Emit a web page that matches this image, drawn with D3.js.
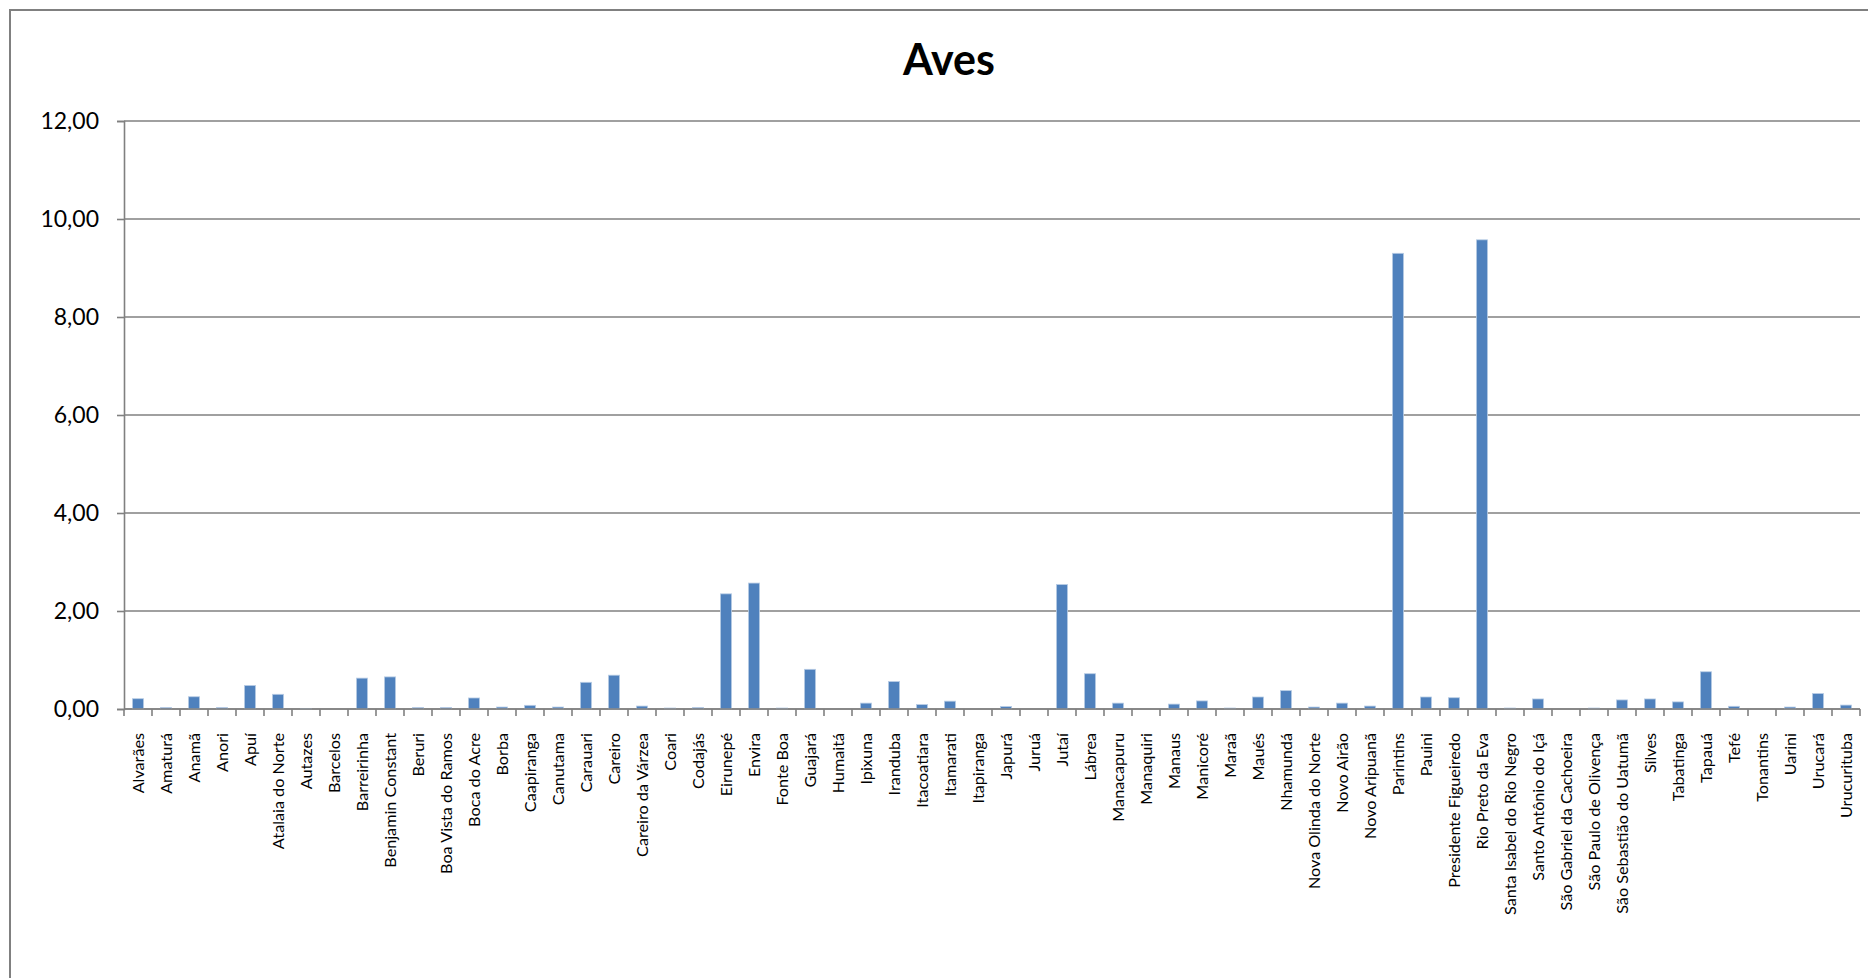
<!DOCTYPE html>
<html>
<head>
<meta charset="utf-8">
<script src="https://cdn.jsdelivr.net/npm/d3@7"></script>
<style>
  html, body { margin: 0; padding: 0; background: #fff; }
  svg { display: block; }
</style>
</head>
<body>
<div id="chart"></div>
<script>
// Municipalities of Amazonas (category axis)
const municipios = [
  "Alvarães", "Amaturá", "Anamã", "Anori", "Apuí", "Atalaia do Norte", "Autazes",
  "Barcelos", "Barreirinha", "Benjamin Constant", "Beruri", "Boa Vista do Ramos",
  "Boca do Acre", "Borba", "Caapiranga", "Canutama", "Carauari", "Careiro",
  "Careiro da Várzea", "Coari", "Codajás", "Eirunepé", "Envira", "Fonte Boa",
  "Guajará", "Humaitá", "Ipixuna", "Iranduba", "Itacoatiara", "Itamarati",
  "Itapiranga", "Japurá", "Juruá", "Jutaí", "Lábrea", "Manacapuru", "Manaquiri",
  "Manaus", "Manicoré", "Maraã", "Maués", "Nhamundá", "Nova Olinda do Norte",
  "Novo Airão", "Novo Aripuanã", "Parintins", "Pauini", "Presidente Figueiredo",
  "Rio Preto da Eva", "Santa Isabel do Rio Negro", "Santo Antônio do Içá",
  "São Gabriel da Cachoeira", "São Paulo de Olivença", "São Sebastião do Uatumã",
  "Silves", "Tabatinga", "Tapauá", "Tefé", "Tonantins", "Uarini", "Urucará",
  "Urucurituba"
];

// Aves values per municipality
const aves = [
  0.21, 0.03, 0.25, 0.03, 0.48, 0.30, 0.01,
  0.00, 0.63, 0.655, 0.03, 0.03,
  0.225, 0.04, 0.075, 0.04, 0.545, 0.69,
  0.06, 0.02, 0.03, 2.35, 2.57, 0.02,
  0.81, 0.00, 0.12, 0.56, 0.09, 0.16,
  0.00, 0.05, 0.00, 2.54, 0.72, 0.12, 0.00,
  0.10, 0.165, 0.02, 0.245, 0.375, 0.04,
  0.12, 0.06, 9.30, 0.245, 0.23,
  9.575, 0.02, 0.205,
  0.00, 0.02, 0.185,
  0.205, 0.145, 0.76, 0.055, 0.00, 0.04, 0.315,
  0.08
];

const yTicks = [0, 2, 4, 6, 8, 10, 12];
const chartTitle = "Aves";

const W = 1868, H = 978;
const margin = { left: 124, right: 8, top: 121, bottom: 269 };
const x0 = margin.left, x1 = W - margin.right;
const y0 = H - margin.bottom, y1 = margin.top;

const gray = "#808080";
const barColor = "#4f81bd";
const font = "Lato, 'Open Sans', sans-serif";

const ptBR = d3.formatLocale({ decimal: ",", thousands: ".", grouping: [3], currency: ["R$", ""] });
const fmt = ptBR.format(".2f");

const svg = d3.select("#chart").append("svg")
  .attr("width", W).attr("height", H);

// chart frame
svg.append("rect")
  .attr("x", 10).attr("y", 10)
  .attr("width", W + 20).attr("height", H + 20)
  .attr("fill", "#fff")
  .attr("stroke", gray).attr("stroke-width", 2);

const x = d3.scaleBand()
  .domain(municipios)
  .range([x0, x1])
  .paddingInner(0.6)
  .paddingOuter(0.3);

const y = d3.scaleLinear()
  .domain([0, 12])
  .range([y0, y1]);

// horizontal gridlines
svg.append("g")
  .selectAll("line")
  .data(yTicks)
  .join("line")
  .attr("x1", x0).attr("x2", x1)
  .attr("y1", d => y(d)).attr("y2", d => y(d))
  .attr("stroke", gray).attr("stroke-width", 1.6);

// y axis
const yAxis = svg.append("g")
  .attr("transform", `translate(${x0},0)`)
  .call(d3.axisLeft(y).tickValues(yTicks).tickFormat(fmt).tickSize(7).tickPadding(18));
yAxis.select(".domain").attr("stroke", gray).attr("stroke-width", 1.6);
yAxis.selectAll(".tick line").attr("stroke", gray).attr("stroke-width", 1.6);
yAxis.selectAll(".tick text")
  .attr("font-family", font).attr("font-size", 23).attr("fill", "#000");

// bars
svg.append("g")
  .selectAll("rect")
  .data(municipios.map((m, i) => ({ m, v: aves[i] })))
  .join("rect")
  .attr("x", d => x(d.m))
  .attr("width", x.bandwidth())
  .attr("y", d => y(d.v))
  .attr("height", d => y(0) - y(d.v))
  .attr("fill", barColor)
  .attr("stroke", d => d.v > 0 ? "#b9cde5" : "none")
  .attr("stroke-width", 0.8);

// x axis baseline with ticks between categories
const step = x.step();
const boundaries = d3.range(municipios.length + 1).map(i => x0 + i * step);
const xg = svg.append("g");
xg.append("line")
  .attr("x1", x0).attr("x2", x1)
  .attr("y1", y0).attr("y2", y0)
  .attr("stroke", gray).attr("stroke-width", 1.6);
xg.selectAll("line.tick")
  .data(boundaries)
  .join("line")
  .attr("class", "tick")
  .attr("x1", d => d).attr("x2", d => d)
  .attr("y1", y0).attr("y2", y0 + 7)
  .attr("stroke", gray).attr("stroke-width", 1.6);

// rotated category labels
xg.selectAll("text")
  .data(municipios)
  .join("text")
  .attr("transform", d => `translate(${x(d) + x.bandwidth() / 2},${y0 + 24}) rotate(-90)`)
  .attr("text-anchor", "end")
  .attr("dy", "0.36em")
  .attr("font-family", font)
  .attr("font-size", 16.2)
  .attr("fill", "#000")
  .text(d => d);

// title
svg.append("text")
  .attr("x", 949).attr("y", 75)
  .attr("text-anchor", "middle")
  .attr("font-family", font)
  .attr("font-weight", "bold")
  .attr("font-size", 43)
  .attr("fill", "#000")
  .text(chartTitle);
</script>
</body>
</html>
